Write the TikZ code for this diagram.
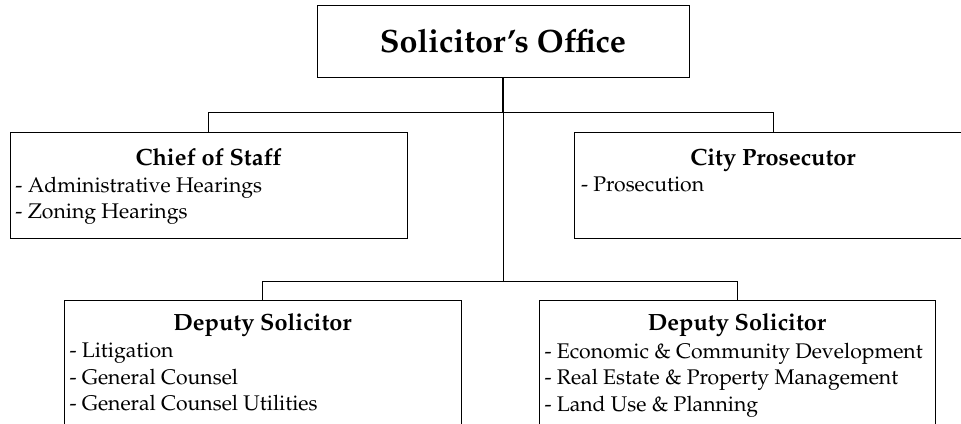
\documentclass[tikz,border=0pt]{standalone}
\usepackage[T1]{fontenc}
\usepackage{mathpazo}

\begin{document}
\begin{tikzpicture}[x=1pt,y=-1pt,line width=.9pt,
    unit/.style={draw,minimum width=397pt,minimum height=106pt,inner sep=0pt},
    head/.style={anchor=base,inner sep=0pt,font=\fontsize{23.5}{28}\selectfont\bfseries},
    duties/.style={anchor=north west,align=left,inner sep=0pt,
      font=\fontsize{21.2}{26.6}\selectfont}]
    \useasboundingbox (0,0) rectangle (961,423);
    \clip (0,0) rectangle (961,423);
    % boxes
    \node[draw,minimum width=372pt,minimum height=72pt,
      font=\fontsize{32.3}{40}\selectfont\bfseries] (office) at (503,41) {Solicitor's Office};
    \node[unit] (chief) at (208.5,185) {};
    \node[unit] (prosec) at (773,185) {};
    \node[unit,minimum height=140pt] (depl) at (262.5,370) {};
    \node[unit,minimum height=140pt,minimum width=396pt] (depr) at (737,370) {};
    % lines
    \draw[line width=1.6pt] (office.south) -- ++(0,36) coordinate (bus);
    \draw (bus) -- ++(0,169);
    \draw (chief.north) -- ++(0,-19) -| (prosec.north);
    \draw (depl.north) -- ++(0,-18) -| (depr.north);
    % texts
    \node[head] (chiefhead) at ([yshift=-33.5pt]chief.north) {Chief of Staff};
    \node[duties] (chieflist) at ([xshift=5.5pt,yshift=-45pt]chief.north west)
      {- Administrative Hearings\\- Zoning Hearings};
    \node[head] (prosechead) at ([yshift=-33.5pt]prosec.north) {City Prosecutor};
    \node[duties] (proseclist) at ([xshift=6.5pt,yshift=-45pt]prosec.north west)
      {- Prosecution};
    \node[head] (deplhead) at ([yshift=-30.5pt]depl.north) {Deputy Solicitor};
    \node[duties] (depllist) at ([xshift=5.5pt,yshift=-43pt]depl.north west)
      {- Litigation\\- General Counsel\\- General Counsel Utilities};
    \node[head] (deprhead) at ([yshift=-30.5pt]depr.north) {Deputy Solicitor};
    \node[duties] (deprlist) at ([xshift=5.5pt,yshift=-43pt]depr.north west)
      {- Economic \& Community Development\\- Real Estate \& Property Management\\- Land Use \& Planning};
\end{tikzpicture}
\end{document}
